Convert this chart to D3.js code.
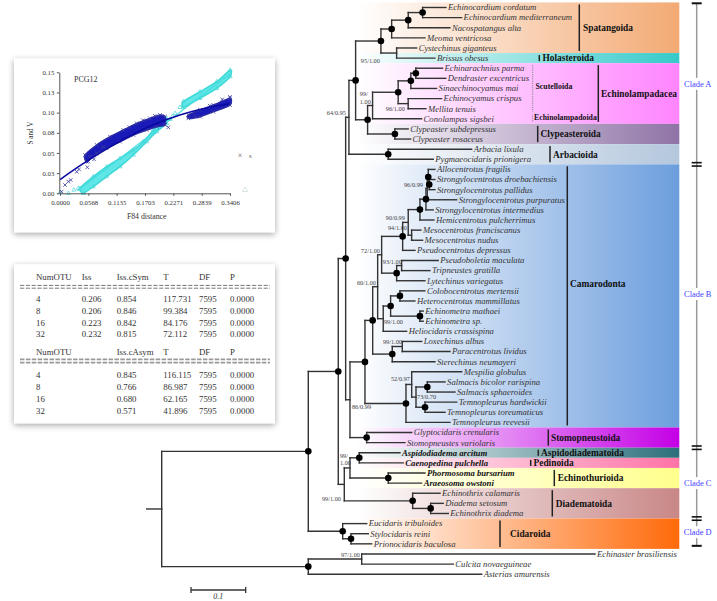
<!DOCTYPE html>
<html><head><meta charset="utf-8">
<script src="https://cdn.jsdelivr.net/npm/d3@7"></script>
<style>body{margin:0;background:#fff}svg{display:block}text{-webkit-font-smoothing:antialiased}</style>
</head><body>
<svg id="c" width="717" height="601"></svg>
<script>
// ================= DATA =================
const leafNames = ["Echinocardium cordatum","Echinocardium mediterraneum","Nacospatangus alta","Meoma ventricosa","Cystechinus giganteus","Brissus obesus","Echinarachnius parma","Dendraster excentricus","Sinaechinocyamus mai","Echinocyamus crispus","Mellita tenuis","Conolampas sigsbei","Clypeaster subdepressus","Clypeaster rosaceus","Arbacia lixula","Pygmaeocidaris prionigera","Allocentrotus fragilis","Strongylocentrotus droebachiensis","Strongylocentrotus pallidus","Strongylocentrotus purpuratus","Strongylocentrotus intermedius","Hemicentrotus pulcherrimus","Mesocentrotus franciscanus","Mesocentrotus nudus","Pseudocentrotus depressus","Pseudoboletia maculata","Tripneustes gratilla","Lytechinus variegatus","Colobocentrotus mertensii","Heterocentrotus mammillatus","Echinometra mathaei","Echinometra sp.","Heliocidaris crassispina","Loxechinus albus","Paracentrotus lividus","Sterechinus neumayeri","Mespilia globulus","Salmacis bicolor rarispina","Salmacis sphaeroides","Temnopleurus hardwickii","Temnopleurus toreumaticus","Temnopleurus reevesii","Glyptocidaris crenularis","Stomopneustes variolaris","Aspidodiadema arcitum","Caenopedina pulchella","Phormosoma bursarium","Araeosoma owstoni","Echinothrix calamaris","Diadema setosum","Echinothrix diadema","Eucidaris tribuloides","Stylocidaris reini","Prionocidaris baculosa","Echinaster brasiliensis","Culcita novaeguineae","Asterias amurensis"];
const leafParents = ["sp1","sp1","sp2","sp3","cb","cb","sc1","sc1","sc2","n96","n96","echl","clyp","clyp","arb","arb","allo","dp","dp","n96b","str","hem","meso","meso","n94","n93","n93","toxo","colhet","colhet","echi","echi","echm","lox","lox","ster","n52","salm","salm","temno","temno","tem","gs","gs","asp","asp","echino","echino","diad","dia2","dia2","cid","sty","sty","n97","n97","nout"];
const leafLengths = [0.0426,0.0713,0.0762,0.0609,0.0366,0.07,0.0488,0.0548,0.047,0.0611,0.0324,0.0896,0.0243,0.0287,0.1525,0.0823,0.0122,0.0104,0.0104,0.0537,0.0133,0.0256,0.017,0.0201,0.0225,0.0669,0.0517,0.0517,0.0457,0.0274,0.006,0.006,0.0428,0.0355,0.0872,0.0781,0.0914,0.0324,0.0506,0.058,0.0366,0.0804,0.0823,0.07,0.0744,0.0804,0.0671,0.061,0.05,0.023,0.0322,0.0439,0.0316,0.0378,0.4265,0.1675,0.317];
const boldTaxa = ["Aspidodiadema arcitum","Caenopedina pulchella","Phormosoma bursarium","Araeosoma owstoni"];

const nodeIds     = ["root","ne","nout","n97","nabc","cid","sty","nab","n99c","n99b","asp","echino","diad","dia2","n64","n86","a1","arb","spho","sp3","sp2","sp1","cb","ec","echl","scut","sc2","sc1","n96","clyp","nx","gs","ndot","tem","n52","n73","salm","temno","n60","ster","lox","n72","echm","ce","colhet","echi","n94","toxo","n93","n90","hem","meso","str","n96b","allo","dp"];
const nodeParents = ["","root","root","nout","ne","ne","cid","nabc","nabc","n99c","n99b","n99b","n99c","diad","nab","nab","n64","n64","a1","spho","sp3","sp2","spho","a1","ec","echl","scut","sc2","scut","ec","n86","n86","nx","nx","tem","n52","n73","n73","ndot","ndot","ster","n60","n60","echm","ce","ce","n72","n72","toxo","n94","n90","n90","hem","str","n96b","allo"];
const nodeLengths = [0,0.268,0.268,0.0976,0.0548,0.0629,0.0152,0.0135,0.011,0.0104,0.017,0.07,0.125,0.0329,0.006,0.0079,0.0122,0.0718,0.0463,0.0196,0.0303,0.0263,0.0287,0.0219,0.0091,0.0468,0.0232,0.0091,0.0183,0.0499,0.0274,0.0305,0.0141,0.075,0.0104,0.0079,0.0207,0.0165,0.0091,0.0358,0.0183,0.0073,0.0102,0.0135,0.017,0.0536,0.0384,0.0274,0.0091,0.0102,0.0214,0.0062,0.011,0.0024,0.0018,0.0018];
const rootStubLength = 0.0274;

const supportNodes = ["cb","echl","n96","n64","n96b","n90","n94","n72","n93","n60","echm","lox","n52","n73","n86","n99b","n99c","n97"];
const supportTexts = ["95/1.00","99/\n1.00","96/1.00","64/0.95","96/0.99","90/0.99","94/1.00","72/1.00","93/1.00","60/1.00","99/1.00","99/1.00","52/0.97","73/0.70","86/0.99","99/\n1.00","99/1.00","97/1.00"];
const markedNodes = ["sp1","sp2","sp3","spho","a1","ec","sc1","sc2","scut","clyp","arb","allo","dp","str","hem","n94","toxo","colhet","ce","echi","ndot","ster","nx","tem","salm","temno","gs","asp","echino","diad","dia2","cid","sty","ne","nout","nab","nabc"];

const orderNames = ["Spatangoida","Holasteroida","Echinolampadacea","Clypeasteroida","Arbacioida","Camarodonta","Stomopneustoida","Aspidodiadematoida","Pedinoida","Echinothurioida","Diadematoida","Cidaroida"];
const orderFirst = [0,5,6,12,14,16,42,44,45,46,48,51];
const orderLast  = [4,5,11,13,15,41,43,44,45,47,50,53];
const subOrderNames = ["Scutelloida","Echinolampadoida"];
const subOrderFirst = [6,11];
const subOrderLast  = [10,11];
const cladeNames = ["Clade A","Clade B","Clade C","Clade D"];
const cladeFirst = [0,16,44,51];
const cladeLast  = [15,43,50,53];
const scaleBarValue = 0.1;

// scatter inset
const xTickValues = [0,0.0568,0.1135,0.1703,0.2271,0.2839,0.3406];
const xTickLabels = ["0.0000","0.0568","0.1135","0.1703","0.2271","0.2839","0.3406"];
const yTickValues = [0,0.025,0.05,0.075,0.1,0.125,0.15];
const yTickLabels = ["0.00","0.03","0.05","0.08","0.10","0.13","0.15"];
const sCloudMain = [[0.0501,0.0475],[0.0735,0.0599],[0.1002,0.0702],[0.1269,0.0785],[0.1536,0.0867],[0.1804,0.0929],[0.2004,0.0971],[0.2104,0.095],[0.2104,0.0847],[0.1937,0.0826],[0.1737,0.0785],[0.147,0.0723],[0.1202,0.064],[0.0935,0.0558],[0.0735,0.0496],[0.0534,0.0392]];
const sCloudRight = [[0.2572,0.097],[0.2806,0.1033],[0.3073,0.1094],[0.3406,0.1177],[0.3406,0.1094],[0.3073,0.1012],[0.2806,0.095],[0.2572,0.0929]];
const sPoints = [[0.0033,0.0021],[0.01,0.0103],[0.0167,0.0145],[0.0214,0.0165],[0.0334,0.0268],[0.0381,0.0297],[0.0548,0.0322],[0.0568,0.0392],[0.0681,0.0421],[0.217,0.0818],[0.3406,0.1195],[0.0601,0.0455],[0.086,0.0575],[0.139,0.082],[0.166,0.0905],[0.19,0.096],[0.27,0.0965],[0.3,0.1085],[0.325,0.1165]];
const sFit = [[0,0.017],[0.047,0.037],[0.113,0.062],[0.18,0.083],[0.24,0.097],[0.28,0.104],[0.34,0.111]];
const vCloudMain = [[0.040,0.0062],[0.0668,0.0207],[0.0935,0.033],[0.1202,0.0434],[0.147,0.0537],[0.167,0.064],[0.187,0.0785],[0.2004,0.0888],[0.2138,0.0929],[0.2138,0.0867],[0.1937,0.0764],[0.1737,0.064],[0.147,0.0475],[0.1202,0.033],[0.0935,0.0207],[0.0668,0.0083],[0.0468,0]];
const vCloudRight = [[0.2471,0.1136],[0.2806,0.126],[0.314,0.1384],[0.341,0.1528],[0.341,0.1446],[0.314,0.130],[0.2806,0.1177],[0.2471,0.1066]];
const vPoints = [[0,0.0008],[0.0167,0],[0.028,0.0041],[0.0367,0.0062],[0.2204,0.0917],[0.2305,0.0991],[0.2405,0.1066],[0.2255,0.0955]];
const vFit = [[0.035,0.003],[0.34,0.148]];

// table inset
const symHeader = ["NumOTU","Iss","Iss.cSym","T","DF","P"];
const symRows = [["4","0.206","0.854","117.731","7595","0.0000"],["8","0.206","0.846","99.384","7595","0.0000"],["16","0.223","0.842","84.176","7595","0.0000"],["32","0.232","0.815","72.112","7595","0.0000"]];
const asymHeader = ["NumOTU","","Iss.cAsym","T","DF","P"];
const asymRows = [["4","","0.845","116.115","7595","0.0000"],["8","","0.766","86.987","7595","0.0000"],["16","","0.680","62.165","7595","0.0000"],["32","","0.571","41.896","7595","0.0000"]];

// ================= STYLE / LAYOUT =================
const SERIF = "'Liberation Serif','Times New Roman',serif";
const orderColors = {Spatangoida:"#f3aa74",Holasteroida:"#35c9c9",Echinolampadacea:"#ff85ff",Clypeasteroida:"#8f73a6",Arbacioida:"#b4c7dd",Camarodonta:"#6c9edd",Stomopneustoida:"#c400e6",Aspidodiadematoida:"#2b6f7a",Pedinoida:"#ff73a6",Echinothurioida:"#ffff8c",Diadematoida:"#c98787",Cidaroida:"#ff6a0a"};
const orderLayout = {Spatangoida:[579.3,583,0],Holasteroida:[539.3,542.5,0],Echinolampadacea:[598.3,601,0],Clypeasteroida:[537.7,540.5,0],Arbacioida:[550,553,0],Camarodonta:[567.3,570,-12],Stomopneustoida:[548.3,551,0],Aspidodiadematoida:[538.3,541,0],Pedinoida:[530.7,533.5,0],Echinothurioida:[554.3,557.7,0],Diadematoida:[552.3,555.7,0],Cidaroida:[500,510,0]};
const subLayout = {Scutelloida:[532.7,535.5,-2],Echinolampadoida:[532.7,534,-1.5]};
const supportPlace = {cb:["end",-16.7,9.5],echl:["start",-12.7,-10,-2],n96:["end",-3.3,6.9],n64:["end",-3,-2.3],n96b:["end",-4.3,-1.4],n90:["end",-3.3,-2],n94:["end",4.3,-6.4],n72:["end",-1.7,-1.3],n93:["end",0.3,-2],n60:["end",-1.7,-2.2],echm:["start",0.7,5.3],lox:["end",-0.3,-3],n52:["end",-1.7,-3.5],n73:["start",1,2],n86:["start",2,9.2],n99b:["start",-10,-10.4,-3],n99c:["end",-3.3,16.6],n97:["end",-1.7,-2]};
const cladeLabelDy = [0,-12,0,0];

const svg = d3.select("#c");
const defs = svg.append("defs");
const flt = defs.append("filter").attr("id","sh").attr("x","-10%").attr("y","-10%").attr("width","120%").attr("height","125%");
flt.append("feDropShadow").attr("dx",0).attr("dy",2).attr("stdDeviation",3.2).attr("flood-color","#000").attr("flood-opacity",0.35);

// ================= TREE =================
const x = d3.scaleLinear().domain([0,0.1]).range([161.7,216.4]);
const y = d3.scaleLinear().domain([0,leafNames.length-1]).range([7.5,574.2]);
const step = y(1)-y(0);

// bands
const bandX0 = 340, bandX1 = 679.3;
orderNames.forEach((name,i)=>{
  const gid = "grad"+i;
  const g = defs.append("linearGradient").attr("id",gid).attr("gradientUnits","userSpaceOnUse")
    .attr("x1",bandX0).attr("x2",bandX1).attr("y1",0).attr("y2",0);
  g.append("stop").attr("offset",0).attr("stop-color","#fff");
  g.append("stop").attr("offset",0.05).attr("stop-color","#fff");
  g.append("stop").attr("offset",1).attr("stop-color",orderColors[name]);
  const y0 = y(orderFirst[i])-step/2, y1 = y(orderLast[i])+step/2;
  svg.append("rect").attr("x",bandX0).attr("y",y0).attr("width",bandX1-bandX0).attr("height",y1-y0).attr("fill",`url(#${gid})`);
});

const rows = nodeIds.map((id,i)=>({id,parent:nodeParents[i]||null,len:nodeLengths[i]}))
  .concat(leafNames.map((id,i)=>({id,parent:leafParents[i],len:leafLengths[i]})));
const root = d3.stratify().id(d=>d.id).parentId(d=>d.parent)(rows);
root.eachBefore(n=>{ n.dist = n.parent ? n.parent.dist + n.data.len : 0; });
const leafIdx = new Map(leafNames.map((n,i)=>[n,i]));
root.eachAfter(n=>{
  if(!n.children) n.yv = y(leafIdx.get(n.id));
  else { const ys = n.children.map(c=>c.yv); n.yv = (d3.min(ys)+d3.max(ys))/2; }
});

const tree = svg.append("g").attr("stroke","#333").attr("stroke-width",1.4).attr("fill","none").attr("stroke-linecap","square");
tree.append("line").attr("x1",x(-rootStubLength)).attr("x2",x(0)).attr("y1",root.yv).attr("y2",root.yv);
root.descendants().forEach(n=>{
  if(n.parent) tree.append("line").attr("x1",x(n.parent.dist)).attr("x2",x(n.dist)).attr("y1",n.yv).attr("y2",n.yv);
  if(n.children){
    const ys = n.children.map(c=>c.yv);
    tree.append("line").attr("x1",x(n.dist)).attr("x2",x(n.dist)).attr("y1",d3.min(ys)).attr("y2",d3.max(ys));
  }
});
const byId = new Map(root.descendants().map(n=>[n.id,n]));
svg.append("g").selectAll("circle").data(markedNodes).join("circle")
  .attr("cx",d=>x(byId.get(d).dist)).attr("cy",d=>byId.get(d).yv).attr("r",3.3).attr("fill","#000");

// leaf labels
svg.append("g").selectAll("text").data(root.leaves()).join("text")
  .attr("x",d=>x(d.dist)+2).attr("y",d=>d.yv).attr("dy","0.33em")
  .attr("font-family",SERIF).attr("font-size",8.7).attr("font-style","italic")
  .attr("font-weight",d=>boldTaxa.includes(d.id)?"bold":"normal")
  .attr("fill",d=>boldTaxa.includes(d.id)?"#111":"#333")
  .text(d=>d.id);

// support labels
supportNodes.forEach((id,i)=>{
  const n = byId.get(id), p = supportPlace[id];
  const parts = supportTexts[i].split("\n");
  parts.forEach((t,k)=>{
    svg.append("text").attr("x",x(n.dist)+p[1]).attr("y",n.yv+(k===0?p[2]:p[3]))
      .attr("text-anchor",p[0]).attr("font-family",SERIF).attr("font-size",6.3).attr("fill","#444").text(t);
  });
});

// order labels
orderNames.forEach((name,i)=>{
  const L = orderLayout[name];
  const y0 = y(orderFirst[i])-step/2, y1 = y(orderLast[i])+step/2;
  svg.append("line").attr("x1",L[0]).attr("x2",L[0]).attr("y1",y0+2).attr("y2",y1-2).attr("stroke","#222").attr("stroke-width",1.5);
  svg.append("text").attr("x",L[1]).attr("y",(y0+y1)/2+L[2]).attr("dy","0.35em")
    .attr("font-family",SERIF).attr("font-weight","bold").attr("font-size",9.4).attr("fill","#111").text(name);
});
subOrderNames.forEach((name,i)=>{
  const L = subLayout[name];
  const y0 = y(subOrderFirst[i])-step/2, y1 = y(subOrderLast[i])+step/2;
  svg.append("line").attr("x1",L[0]).attr("x2",L[0]).attr("y1",y0+2).attr("y2",y1-2).attr("stroke","#888").attr("stroke-width",1).attr("stroke-dasharray","1.2,1");
  svg.append("text").attr("x",L[1]).attr("y",(y0+y1)/2+L[2]).attr("dy","0.35em")
    .attr("font-family",SERIF).attr("font-weight","bold").attr("font-size",7.8).attr("fill","#111").text(name);
});

// clade bars
const cx = 696.7;
const cladeTop = cladeFirst.map(f=>f===0 ? y(f)-4.2 : y(f)-step/2);
const cladeBot = cladeLast.map((l,i)=> i===cladeLast.length-1 ? y(l)+2 : y(l)+step/2);
svg.append("line").attr("x1",cx).attr("x2",cx).attr("y1",cladeTop[0]).attr("y2",cladeBot[cladeBot.length-1]).attr("stroke","#999").attr("stroke-width",1.5);
cladeNames.forEach((c,i)=>{
  const ym = (cladeTop[i]+cladeBot[i])/2 + cladeLabelDy[i];
  svg.append("rect").attr("x",cx-14).attr("y",ym-6).attr("width",28).attr("height",12).attr("fill","#fff");
  svg.append("text").attr("x",cx+1).attr("y",ym).attr("dy","0.35em").attr("text-anchor","middle")
    .attr("font-family",SERIF).attr("font-size",8.4).attr("fill","#3c3cff").text(c);
});
const capYs = [cladeTop[0], cladeBot[cladeBot.length-1]];
capYs.forEach(cy=>svg.append("line").attr("x1",cx-5).attr("x2",cx+5).attr("y1",cy).attr("y2",cy).attr("stroke","#111").attr("stroke-width",2));
cladeBot.slice(0,-1).forEach(cy=>{
  [-1.7,1.7].forEach(o=>svg.append("line").attr("x1",cx-5).attr("x2",cx+5).attr("y1",cy+o).attr("y2",cy+o).attr("stroke","#111").attr("stroke-width",1.6));
});

// scale bar
const sbX = 191, sbY = 590, sbLen = x(scaleBarValue)-x(0);
const sb = svg.append("g").attr("stroke","#333").attr("stroke-width",1.3);
sb.append("line").attr("x1",sbX).attr("x2",sbX+sbLen).attr("y1",sbY).attr("y2",sbY);
sb.append("line").attr("x1",sbX).attr("x2",sbX).attr("y1",sbY-3).attr("y2",sbY+3);
sb.append("line").attr("x1",sbX+sbLen).attr("x2",sbX+sbLen).attr("y1",sbY-3).attr("y2",sbY+3);
svg.append("text").attr("x",sbX+sbLen/2).attr("y",sbY+9).attr("text-anchor","middle").attr("font-family",SERIF)
  .attr("font-style","italic").attr("font-size",8).attr("fill","#333").text(scaleBarValue);

// ================= SCATTER INSET =================
svg.append("rect").attr("x",14).attr("y",58.3).attr("width",261).attr("height",174).attr("fill","#fff").attr("filter","url(#sh)");
const sx = d3.scaleLinear().domain([0,0.3406]).range([60,230]);
const sy = d3.scaleLinear().domain([0,0.15]).range([193.3,72.3]);
const sc = svg.append("g");
const closed = d3.line().x(d=>sx(d[0])).y(d=>sy(d[1])).curve(d3.curveCardinalClosed.tension(0.3));
const open = d3.line().x(d=>sx(d[0])).y(d=>sy(d[1])).curve(d3.curveMonotoneX);
const tri = d3.symbol().type(d3.symbolTriangle).size(7);
[vCloudMain,vCloudRight].forEach(a=>sc.append("path").attr("d",closed(a)).attr("fill","#5fe6e6").attr("stroke","#3fd8d8").attr("stroke-width",1.5));
vPoints.concat(vCloudMain,vCloudRight).forEach(p=>sc.append("path").attr("d",tri()).attr("transform",`translate(${sx(p[0])},${sy(p[1])})`).attr("fill","none").attr("stroke","#4ad9d9").attr("stroke-width",0.7));
sc.append("path").attr("d",open(vFit)).attr("stroke","#45dede").attr("stroke-width",1.2).attr("fill","none");
[sCloudMain,sCloudRight].forEach(a=>sc.append("path").attr("d",closed(a)).attr("fill","#1a1ab8").attr("stroke","#2a2aa8").attr("stroke-width",1.5));
sPoints.concat(sCloudMain,sCloudRight).forEach(p=>{
  const px=sx(p[0]), py=sy(p[1]);
  sc.append("path").attr("d",`M${px-1.8},${py-1.8}L${px+1.8},${py+1.8}M${px-1.8},${py+1.8}L${px+1.8},${py-1.8}`).attr("stroke","#3a3aa0").attr("stroke-width",0.8);
});
sc.append("path").attr("d",open(sFit)).attr("stroke","#0a0aa0").attr("stroke-width",1.6).attr("fill","none");

const ax = svg.append("g").attr("transform","translate(0,193.3)")
  .call(d3.axisBottom(sx).tickValues(xTickValues).tickFormat((d,i)=>xTickLabels[i]).tickSize(2.5).tickSizeOuter(0).tickPadding(4));
const ay = svg.append("g").attr("transform","translate(59.3,0)")
  .call(d3.axisLeft(sy).tickValues(yTickValues).tickFormat((d,i)=>yTickLabels[i]).tickSize(2.5).tickSizeOuter(0).tickPadding(2.5));
[ax,ay].forEach(g=>{
  g.selectAll("path,line").attr("stroke","#555");
  g.selectAll("text").attr("font-family",SERIF).attr("font-size",6.8).attr("fill","#333");
});
svg.append("text").attr("x",74).attr("y",79.3).attr("dy","0.35em").attr("font-family",SERIF).attr("font-size",8).attr("fill","#333").text("PCG12");
svg.append("text").attr("x",146.7).attr("y",216.7).attr("dy","0.35em").attr("text-anchor","middle").attr("font-family",SERIF).attr("font-size",7.8).attr("fill","#333").text("F84 distance");
svg.append("text").attr("transform","translate(30,133) rotate(-90)").attr("dy","0.35em").attr("text-anchor","middle").attr("font-family",SERIF).attr("font-size",7.2).attr("fill","#333").text("S and V");
svg.append("text").attr("x",240).attr("y",155).attr("dy","0.35em").attr("text-anchor","middle").attr("font-family",SERIF).attr("font-size",8).attr("fill","#555").text("×");
svg.append("text").attr("x",249).attr("y",156).attr("dy","0.35em").attr("font-family",SERIF).attr("font-size",6.5).attr("fill","#555").text("s");
svg.append("path").attr("d",d3.symbol().type(d3.symbolTriangle).size(12)()).attr("transform","translate(245,190)").attr("fill","none").attr("stroke","#c8d8d8").attr("stroke-width",0.7);

// ================= TABLE INSET =================
svg.append("rect").attr("x",14).attr("y",264.3).attr("width",261).attr("height",159).attr("fill","#fff").attr("filter","url(#sh)");
const colX = [36,81.7,116.7,163.3,199,230];
const tb = svg.append("g").attr("font-family",SERIF).attr("font-size",8.8).attr("fill","#333");
function tRow(vals, yy){ vals.forEach((v,j)=>{ if(v!=="") tb.append("text").attr("x",colX[j]).attr("y",yy).attr("dy","0.35em").text(v); }); }
tRow(symHeader, 276.7);
symRows.forEach((r,i)=>tRow(r, 299.3+i*11.7));
tRow(asymHeader, 352.3);
asymRows.forEach((r,i)=>tRow(r, 375+i*11.9));
[285.4,288.2].forEach(yy=>svg.append("line").attr("x1",20).attr("x2",270).attr("y1",yy).attr("y2",yy).attr("stroke","#555").attr("stroke-width",0.8).attr("stroke-dasharray","4.2,1.6"));
[359.3,362.7].forEach(yy=>svg.append("line").attr("x1",20).attr("x2",270).attr("y1",yy).attr("y2",yy).attr("stroke","#999").attr("stroke-width",1.7).attr("stroke-dasharray","4.5,1.4"));
</script>
</body></html>
